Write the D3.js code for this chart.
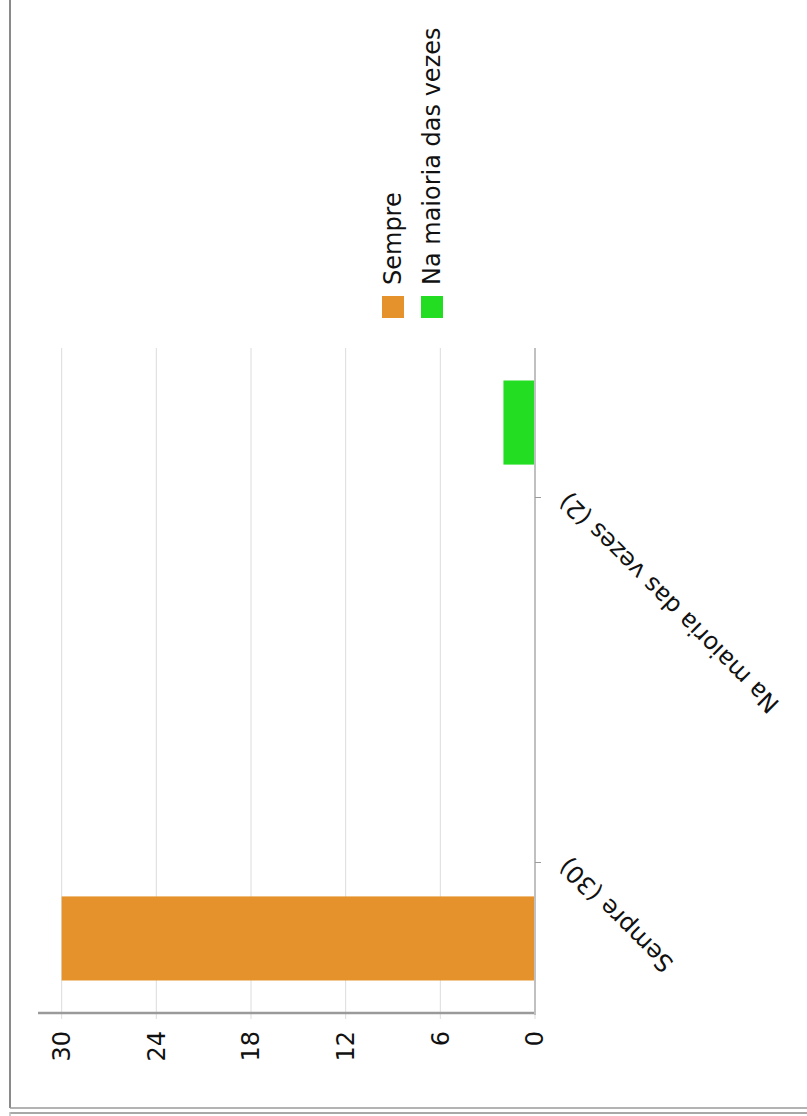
<!DOCTYPE html>
<html>
<head>
<meta charset="utf-8">
<script src="https://cdn.jsdelivr.net/npm/d3@7/dist/d3.min.js"></script>
<style>
  html, body { margin: 0; padding: 0; background: #fff; }
  svg { display: block; }
  text { font-family: "DejaVu Sans", sans-serif; fill: #111; }
</style>
</head>
<body>
<script>
const categories = ["Sempre (30)", "Na maioria das vezes (2)"];
const seriesNames = ["Sempre", "Na maioria das vezes"];
const values = [30, 2];
const colors = ["#E5922C", "#22DD22"];
const valueTicks = [0, 6, 12, 18, 24, 30];

(function () {
const W = 807, H = 1116;
const svg = d3.select("body").append("svg").attr("width", W).attr("height", H);

// page frame
svg.append("line").attr("x1", 10).attr("x2", 10).attr("y1", 0).attr("y2", 1108)
  .attr("stroke", "#8a8a8a").attr("stroke-width", 2);
svg.append("line").attr("x1", 10).attr("x2", W).attr("y1", 1108).attr("y2", 1108)
  .attr("stroke", "#9a9a9a").attr("stroke-width", 1.5);
svg.append("line").attr("x1", 10).attr("x2", W).attr("y1", 1113).attr("y2", 1113)
  .attr("stroke", "#a8a8a8").attr("stroke-width", 2);
svg.append("line").attr("x1", 10).attr("x2", 10).attr("y1", 1112).attr("y2", H)
  .attr("stroke", "#bdbdbd").attr("stroke-width", 1.5);

// chart drawn unrotated, then rotated -90deg
const g = svg.append("g").attr("transform", `translate(0,${H}) rotate(-90)`);

const pL = 103, pR = 768, pT = 38, pB = 535;

const x = d3.scaleBand().domain(categories).range([pL, pR])
  .paddingInner(0.837).paddingOuter(0.063);
const xTick = d3.scalePoint().domain(categories).range([pL, pR]).padding(0.411);
const y = d3.scaleLinear().domain([0, 31.5]).range([pB, pT]);

// gridlines (with tick stubs)
g.append("g").selectAll("line").data(valueTicks).join("line")
  .attr("x1", pL - 6).attr("x2", pR)
  .attr("y1", d => y(d)).attr("y2", d => y(d))
  .attr("stroke", "#dcdcdc").attr("stroke-width", 1);

// bars
g.append("g").selectAll("rect").data(categories).join("rect")
  .attr("x", d => x(d))
  .attr("width", x.bandwidth())
  .attr("y", (d, i) => y(values[i]))
  .attr("height", (d, i) => y(0) - y(values[i]))
  .attr("fill", (d, i) => colors[i]);

// value axis
const yAxis = g.append("g").attr("transform", `translate(${pL},0)`)
  .call(d3.axisLeft(y).tickValues(valueTicks).tickSize(0).tickSizeOuter(0).tickPadding(18));
yAxis.select(".domain").attr("stroke", "#9a9a9a").attr("stroke-width", 2.5)
  .attr("d", `M0,${pT}V${pB + 1}`);
yAxis.selectAll("text").attr("font-size", 24).attr("fill", "#111")
  .attr("font-family", "DejaVu Sans");

// category axis
const xAxis = g.append("g").attr("transform", `translate(0,${pB})`)
  .call(d3.axisBottom(xTick).tickSize(6).tickSizeOuter(0).tickFormat(""));
xAxis.select(".domain").attr("stroke", "#c0c0c0").attr("stroke-width", 2)
  .attr("d", `M${pL - 2},0H${pR}`);
xAxis.selectAll(".tick line").attr("stroke", "#9a9a9a").attr("stroke-width", 1);
xAxis.selectAll(".tick").append("text")
  .attr("text-anchor", "end")
  .attr("font-size", 24)
  .attr("fill", "#111")
  .attr("font-family", "DejaVu Sans")
  .attr("transform", "translate(6,34) rotate(-45)")
  .text(d => d);

// legend
const legend = g.append("g");
seriesNames.forEach((s, i) => {
  const cy = 393 + i * 39;
  legend.append("rect").attr("x", 798).attr("y", cy - 11).attr("width", 22).attr("height", 22)
    .attr("fill", colors[i]);
  legend.append("text").attr("x", 831).attr("y", cy).attr("dy", "0.35em")
    .attr("font-size", 24).text(s);
});
})();
</script>
</body>
</html>
